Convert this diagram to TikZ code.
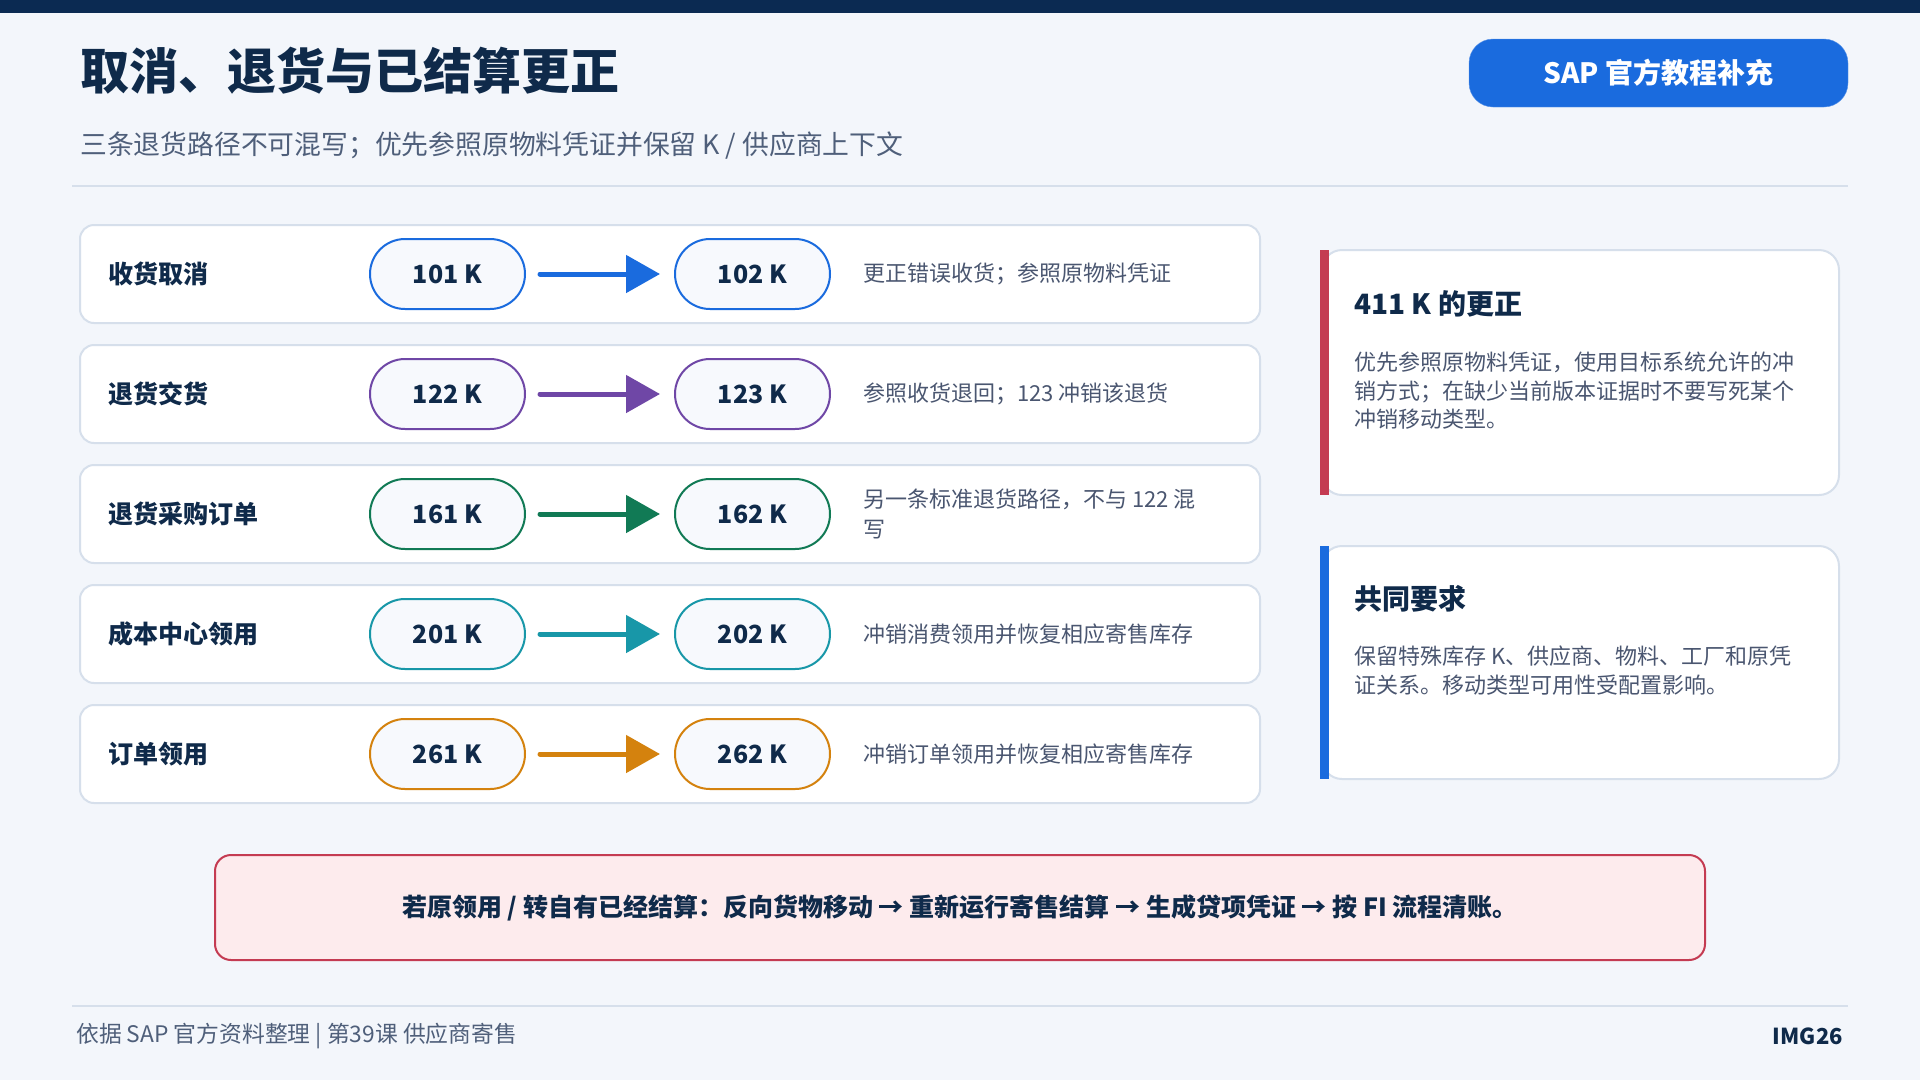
\documentclass[tikz,border=0pt]{standalone}
\usepackage{fontspec}
\setmainfont{Noto Sans CJK SC}
\usetikzlibrary{arrows.meta}
\definecolor{navy}{HTML}{0F2A4A}
\definecolor{topbar}{HTML}{0B2A52}
\definecolor{subgrey}{HTML}{4F5F7A}
\definecolor{txtgrey}{HTML}{4A5670}
\definecolor{rule}{HTML}{D6DFEB}
\definecolor{pagebg}{HTML}{F3F6FB}
\definecolor{pillbg}{HTML}{F7F9FD}
\definecolor{blueA}{HTML}{1A6BDE}
\definecolor{purpleA}{HTML}{6F47A6}
\definecolor{greenA}{HTML}{117A55}
\definecolor{tealA}{HTML}{1897A8}
\definecolor{orangeA}{HTML}{D4820E}
\definecolor{redA}{HTML}{C43B52}
\definecolor{pinkA}{HTML}{FDEBED}
\newcommand{\fsz}[2]{\fontsize{#1}{#2}\selectfont}
\newcommand{\Ka}{优先参照原物料凭证，使用目标系统允许的冲\\销方式；在缺少当前版本证据时不要写死某个\\冲销移动类型。}
\newcommand{\Kb}{保留特殊库存 K、供应商、物料、工厂和原凭\\证关系。移动类型可用性受配置影响。}
\newcommand{\Kc}{若原领用 / 转自有已经结算：反向货物移动 → 重新运行寄售结算 → 生成贷项凭证 → 按 FI 流程清账。}

\begin{document}
\begin{tikzpicture}[x=1pt, y=-1pt,
    rowbox/.style={draw=rule, line width=2pt, fill=white, rounded corners=14pt,
        minimum width=1180pt, minimum height=98pt, inner sep=0pt},
    rowlabel/.style={anchor=west, inner sep=0pt, text=navy, font=\fsz{25}{30}\bfseries},
    pill/.style={draw=#1, line width=2pt, fill=pillbg, rounded corners=35pt,
        minimum width=155pt, minimum height=70pt, text=navy, font=\fsz{25}{30}\bfseries},
    flow/.style={draw=#1, line width=5pt, line cap=round, shorten <=14pt, shorten >=14pt,
        -{Triangle[length=34pt,width=37pt]}},
    desc/.style={anchor=west, inner sep=0pt, text=txtgrey, align=left, font=\fsz{22}{30}},
    card/.style={draw=rule, line width=2pt, fill=white, rounded corners=20pt},
    cardhead/.style={anchor=west, inner sep=0pt, text=navy, font=\fsz{28}{34}\bfseries},
    cardbody/.style={anchor=west, inner sep=0pt, text=txtgrey, align=left, font=\fsz{22}{28.5}}]
    % page
    \fill[pagebg] (0,0) rectangle (1920,1080);
    \useasboundingbox (0,0) rectangle (1920,1080);
    \fill[topbar] (0,0) rectangle (1920,13);
    % header
    \node[anchor=west, inner sep=0pt, text=navy, font=\fsz{49}{56}\bfseries] (title) at (80,71) {取消、退货与已结算更正};
    \node[anchor=west, inner sep=0pt, text=subgrey, font=\fsz{26.8}{32}] (subtitle) at (80,146) {三条退货路径不可混写；优先参照原物料凭证并保留 K / 供应商上下文};
    \node[fill=blueA, draw=blueA!70!white, rounded corners=24pt, minimum width=379pt, minimum height=68pt,
        text=white, font=\fsz{28}{34}\bfseries] (badge) at (1658.5,73) {SAP 官方教程补充};
    \draw[rule, line width=2.5pt] (72,186) -- (1848,186);

    % rows
    \node[rowbox] (row1) at (670,274) {};
    \node[rowlabel] (lab1) at (108,274) {收货取消};
    \node[pill=blueA] (a1) at (447.5,274) {101 K};
    \node[pill=blueA] (b1) at (752.5,274) {102 K};
    \node[desc] (desc1) at (863,274) {更正错误收货；参照原物料凭证};
    \draw[flow=blueA] (a1) -- (b1);

    \node[rowbox] (row2) at (670,394) {};
    \node[rowlabel] (lab2) at (108,394) {退货交货};
    \node[pill=purpleA] (a2) at (447.5,394) {122 K};
    \node[pill=purpleA] (b2) at (752.5,394) {123 K};
    \node[desc] (desc2) at (863,394) {参照收货退回；123 冲销该退货};
    \draw[flow=purpleA] (a2) -- (b2);

    \node[rowbox] (row3) at (670,514) {};
    \node[rowlabel] (lab3) at (108,514) {退货采购订单};
    \node[pill=greenA] (a3) at (447.5,514) {161 K};
    \node[pill=greenA] (b3) at (752.5,514) {162 K};
    \node[desc] (desc3) at (863,514) {另一条标准退货路径，不与 122 混\\写};
    \draw[flow=greenA] (a3) -- (b3);

    \node[rowbox] (row4) at (670,634) {};
    \node[rowlabel] (lab4) at (108,634) {成本中心领用};
    \node[pill=tealA] (a4) at (447.5,634) {201 K};
    \node[pill=tealA] (b4) at (752.5,634) {202 K};
    \node[desc] (desc4) at (863,634) {冲销消费领用并恢复相应寄售库存};
    \draw[flow=tealA] (a4) -- (b4);

    \node[rowbox] (row5) at (670,754) {};
    \node[rowlabel] (lab5) at (108,754) {订单领用};
    \node[pill=orangeA] (a5) at (447.5,754) {261 K};
    \node[pill=orangeA] (b5) at (752.5,754) {262 K};
    \node[desc] (desc5) at (863,754) {冲销订单领用并恢复相应寄售库存};
    \draw[flow=orangeA] (a5) -- (b5);

    % side cards
    \draw[card] (1322,250) rectangle (1839,495);
    \fill[redA] (1320,250) rectangle (1329,495);
    \node[cardhead] (head1) at (1354,304) {411 K 的更正};
    \node[cardbody] (body1) at (1354,391) {\Ka};

    \draw[card] (1322,546) rectangle (1839,779);
    \fill[blueA] (1320,546) rectangle (1329,779);
    \node[cardhead] (head2) at (1354,599) {共同要求};
    \node[cardbody] (body2) at (1354,670.5) {\Kb};

    % settlement note
    \node[draw=redA, line width=2pt, fill=pinkA, rounded corners=16pt, minimum width=1490pt,
        minimum height=105pt, text=navy, font=\fsz{25}{30}\bfseries] (note) at (960,907.5) {\Kc};

    % footer
    \draw[rule, line width=2.5pt] (72,1006) -- (1848,1006);
    \node[anchor=west, inner sep=0pt, text=subgrey, font=\fsz{22.8}{28}] (src) at (76,1036) {依据 SAP 官方资料整理 | 第39课 供应商寄售};
    \node[anchor=east, inner sep=0pt, text=navy, font=\fsz{22}{28}\bfseries] (imgno) at (1843,1036) {IMG26};
\end{tikzpicture}
\end{document}
